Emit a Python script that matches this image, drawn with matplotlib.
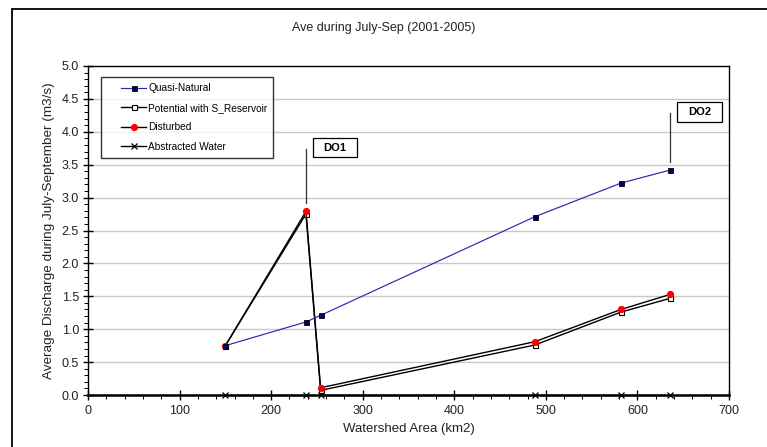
import matplotlib
matplotlib.use("Agg")
import matplotlib.pyplot as plt
from matplotlib.patches import Rectangle
from matplotlib.ticker import MultipleLocator, FormatStrFormatter
from matplotlib.legend_handler import HandlerLine2D

plt.rcParams['font.family'] = ['Liberation Sans', 'DejaVu Sans']

# Watershed area of each station (km2)
area = [150, 238, 254, 488, 582, 636]

# Average discharge July-September (m3/s)
quasi_natural = [0.75, 1.11, 1.21, 2.71, 3.22, 3.42]
potential_reservoir = [0.75, 2.75, 0.07, 0.76, 1.26, 1.47]
disturbed = [0.75, 2.79, 0.11, 0.81, 1.30, 1.53]
abstracted = [0, 0, 0, 0, 0, 0]

series_labels = ["Quasi-Natural", "Potential with S_Reservoir", "Disturbed", "Abstracted Water"]
title = "Ave during July-Sep (2001-2005)"
xlabel = "Watershed Area (km2)"
ylabel = "Average Discharge during July-September (m3/s)"


class IndentedLine(HandlerLine2D):
    """Legend line handler that leaves a blank lead-in before the sample line."""

    def __init__(self, lead, **kw):
        super().__init__(**kw)
        self.lead = lead

    def create_artists(self, legend, orig_handle, xdescent, ydescent, width, height, fontsize, trans):
        return super().create_artists(legend, orig_handle, xdescent - self.lead, ydescent,
                                      width - self.lead, height, fontsize, trans)


W, H = 767, 447
fig = plt.figure(figsize=(W / 100, H / 100), dpi=100)
fig.patch.set_facecolor('white')

# outer chart frame
fig.patches.append(Rectangle((11.5 / W, -0.05), 1.2, 1 - 8.5 / H + 0.05, transform=fig.transFigure,
                             fill=False, edgecolor='black', linewidth=1.3))

ax = fig.add_axes([88 / W, 1 - 395 / H, (729 - 88) / W, (395 - 66) / H])

ax.plot(area, quasi_natural, color='#2828B0', linewidth=0.85, marker='s', markersize=3.6,
        markerfacecolor='#000060', markeredgecolor='black', markeredgewidth=0.6,
        label=series_labels[0], zorder=4)
ax.plot(area, potential_reservoir, color='black', linewidth=1.0, marker='s', markersize=3.6,
        markerfacecolor='white', markeredgecolor='black', markeredgewidth=0.8,
        label=series_labels[1], zorder=3)
ax.plot(area, disturbed, color='black', linewidth=1.0, marker='o', markersize=4.2,
        markerfacecolor='red', markeredgecolor='red',
        label=series_labels[2], zorder=3)
ax.plot(area, abstracted, color='black', linewidth=1.0, marker='x', markersize=4,
        markeredgewidth=0.9, label=series_labels[3], zorder=5, clip_on=False)

ax.set_xlim(0, 700)
ax.set_ylim(0, 5.0)
ax.xaxis.set_major_locator(MultipleLocator(100))
ax.xaxis.set_minor_locator(MultipleLocator(20))
ax.yaxis.set_major_locator(MultipleLocator(0.5))
ax.yaxis.set_minor_locator(MultipleLocator(0.1))
ax.yaxis.set_major_formatter(FormatStrFormatter('%.1f'))

ax.grid(axis='y', which='major', color='#C8C8C8', linewidth=1.0, zorder=0)
ax.set_axisbelow(True)

ax.tick_params(axis='both', which='major', direction='inout', length=7, width=1.0,
               labelsize=9, colors='black', labelcolor='#222222')
ax.tick_params(axis='both', which='minor', direction='out', length=3, width=0.7)
ax.tick_params(axis='x', which='major', pad=4)
ax.tick_params(axis='y', which='major', pad=3)

for side in ['left', 'top', 'right']:
    ax.spines[side].set_linewidth(1.0)
ax.spines['bottom'].set_linewidth(1.8)

ax.set_xlabel(xlabel, fontsize=9.5, color='#222222', labelpad=4)
ax.set_ylabel(ylabel, fontsize=9.7, color='#222222', labelpad=5)
fig.text(0.5, 1 - 28 / H, title, ha='center', va='center', fontsize=9, color='#222222')

handles, labels = ax.get_legend_handles_labels()
leg = ax.legend(handles, labels,
                loc='upper left',
                bbox_to_anchor=((101 - 88) / (729 - 88), 1 - (77 - 66) / (395 - 66)),
                fontsize=7.3, frameon=True, fancybox=False, edgecolor='black',
                borderpad=0.6, labelspacing=0.95, handlelength=3.85, handletextpad=0.2,
                borderaxespad=0,
                handler_map={h: IndentedLine(lead=10) for h in handles})
leg.get_frame().set_linewidth(1.0)

# station annotations: leader line, framed label box
stations = [
    # x, line bottom, line top, box left, box right, box bottom, box top, name
    (238, 2.92, 3.74, 245.7, 293.8, 3.61, 3.91, "DO1"),
    (636, 3.54, 4.29, 643.2, 692.4, 4.155, 4.45, "DO2"),
]
for xs, y0, y1, bx0, bx1, by0, by1, name in stations:
    ax.plot([xs, xs], [y0, y1], color='#333333', linewidth=0.9, zorder=2)
    ax.add_patch(Rectangle((bx0, by0), bx1 - bx0, by1 - by0, facecolor='white',
                           edgecolor='black', linewidth=0.9, zorder=6))
    ax.text((bx0 + bx1) / 2, (by0 + by1) / 2, name, ha='center', va='center',
            fontsize=8, fontweight='bold', zorder=7)

fig.savefig('out.png', dpi=100)
